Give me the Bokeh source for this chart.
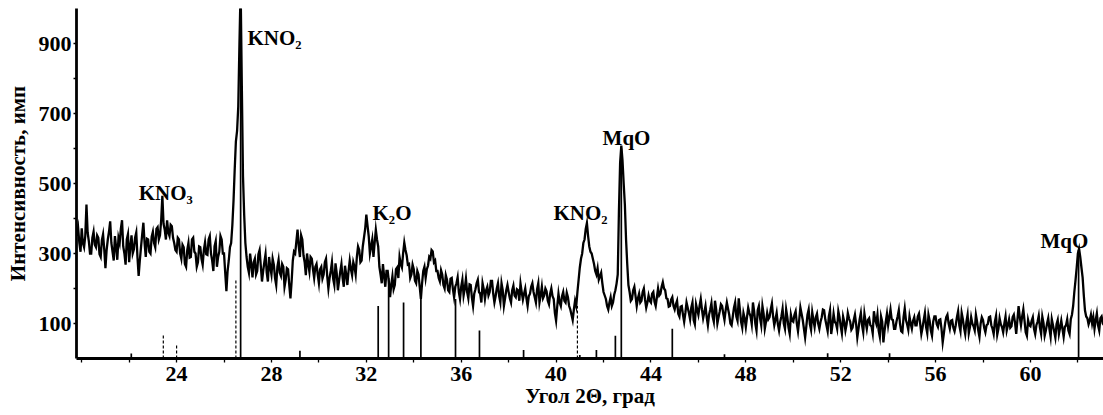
import numpy as np
from bokeh.plotting import figure
from bokeh.models import Range1d, FixedTicker
from bokeh.core.properties import value
from bokeh.embed import file_html
from bokeh.resources import INLINE

# ---- data ----
scan_start = 19.80    # first 2-theta of the scan, degrees
scan_step = 0.05      # scan step, degrees

# 19.80 ... 29.95
intensity_20s = [
    350, 372, 330, 305,
    372, 330, 318, 350, 440, 360, 335, 300, 300, 345, 362, 325, 318, 352, 345, 298, 290, 338, 355, 312,
    258, 310, 340, 362, 392, 330, 305, 280, 350, 318, 282, 345, 330, 370, 395, 320, 300, 268, 340, 355,
    275, 320, 352, 300, 312, 345, 360, 290, 236, 280, 318, 355, 388, 330, 290, 342, 340, 305, 300, 348,
    362, 330, 318, 370, 375, 340, 352, 395, 465, 385, 368, 340, 395, 360, 350, 382, 378, 345, 330, 310,
    305, 345, 340, 300, 285, 325, 318, 270, 262, 310, 330, 288, 290, 340, 345, 305, 300, 262, 275, 320,
    318, 285, 268, 310, 332, 298, 296, 340, 350, 300, 280, 250, 320, 335, 262, 290, 305, 350, 340, 300,
    300, 245, 192, 250, 280, 318, 330, 380, 450, 540, 620, 650, 720, 900, 1060, 780, 520, 410, 330, 290,
    262, 245, 300, 268, 232, 275, 285, 240, 250, 298, 310, 265, 220, 250, 275, 298, 245, 220, 290, 260,
    240, 285, 268, 230, 210, 262, 282, 245, 236, 270, 262, 205, 225, 258, 255, 210, 172, 220, 280, 305,
    300, 335, 368, 320, 290, 352, 340, 295, 275, 238, 300, 270, 248, 290, 285, 255, 230, 262, 270, 240,
]
# 30.00 ... 39.95
intensity_30s = [
    215, 255, 262, 228, 240, 275, 285, 235, 200, 230, 250, 275, 228, 210, 272, 245, 195, 222, 248, 270,
    230, 205, 265, 240, 210, 250, 280, 255, 238, 275, 262, 240, 290, 320, 310, 275, 280, 320, 345, 370,
    411, 380, 350, 300, 320, 340, 290, 330, 368, 340, 320, 262, 240, 215, 270, 235, 205, 250, 250, 220,
    175, 210, 235, 198, 210, 255, 260, 230, 290, 270, 260, 300, 331, 310, 295, 268, 270, 230, 240, 268,
    255, 222, 215, 250, 240, 205, 170, 215, 250, 262, 230, 255, 265, 290, 285, 310, 306, 275, 280, 250,
    250, 230, 220, 252, 240, 210, 200, 238, 225, 195, 190, 228, 230, 198, 175, 205, 215, 232, 190, 170,
    205, 225, 180, 200, 228, 190, 172, 212, 210, 175, 150, 185, 198, 215, 225, 190, 185, 160, 215, 198,
    170, 195, 205, 180, 190, 222, 222, 185, 160, 178, 200, 215, 178, 160, 215, 195, 150, 172, 195, 210,
    190, 172, 160, 195, 208, 180, 175, 198, 195, 165, 214, 190, 168, 185, 200, 172, 150, 178, 185, 205,
    215, 190, 175, 160, 198, 215, 160, 180, 205, 172, 180, 200, 192, 165, 155, 185, 200, 178, 170, 130,
]
# 40.00 ... 49.95
intensity_40s = [
    108, 150, 185, 160, 150, 178, 190, 165, 160, 188, 175, 150, 140, 125, 110, 140, 165, 150, 190, 225,
    260, 285, 300, 330, 340, 370, 387, 350, 320, 305, 300, 285, 270, 250, 240, 258, 225, 235, 245, 215,
    190, 180, 170, 150, 140, 160, 175, 150, 160, 182, 195, 214, 240, 423, 560, 608, 566, 500, 440, 340,
    270, 210, 190, 165, 170, 195, 205, 178, 150, 172, 185, 160, 165, 190, 200, 168, 145, 160, 180, 165,
    160, 185, 190, 162, 150, 175, 200, 180, 185, 205, 218, 200, 195, 172, 170, 148, 150, 168, 175, 150,
    140, 155, 165, 128, 120, 148, 150, 125, 105, 130, 160, 145, 130, 112, 145, 160, 110, 98, 155, 140,
    125, 150, 170, 140, 115, 132, 150, 118, 95, 125, 140, 158, 120, 105, 165, 140, 100, 118, 135, 155,
    150, 128, 110, 138, 160, 142, 125, 100, 95, 120, 145, 160, 120, 108, 172, 140, 105, 88, 130, 115,
    90, 118, 145, 130, 120, 98, 160, 135, 100, 80, 138, 150, 115, 95, 150, 128, 85, 105, 130, 112,
    118, 140, 157, 120, 95, 112, 130, 98, 80, 105, 120, 142, 100, 85, 140, 118, 88, 70, 125, 108,
]
# 50.00 ... 59.95
intensity_50s = [
    105, 125, 135, 100, 78, 110, 146, 128, 110, 85, 60, 92, 125, 140, 98, 82, 132, 110, 90, 118,
    128, 100, 85, 105, 118, 140, 138, 112, 95, 78, 120, 138, 70, 95, 128, 105, 100, 85, 135, 118,
    92, 72, 120, 105, 80, 98, 130, 115, 105, 82, 88, 110, 125, 98, 60, 85, 112, 130, 95, 75,
    128, 105, 85, 110, 115, 95, 92, 72, 135, 112, 100, 125, 80, 62, 120, 105, 46, 80, 105, 128,
    95, 118, 140, 112, 110, 85, 85, 105, 120, 138, 100, 78, 75, 118, 143, 110, 98, 82, 120, 100,
    85, 108, 118, 95, 95, 120, 128, 100, 70, 88, 110, 130, 90, 72, 125, 108, 80, 65, 105, 120,
    120, 98, 90, 110, 112, 85, 46, 72, 100, 118, 125, 100, 85, 108, 110, 88, 78, 95, 118, 135,
    95, 78, 130, 112, 88, 70, 105, 125, 72, 90, 118, 100, 92, 80, 125, 105, 80, 62, 100, 118,
    110, 88, 75, 95, 98, 118, 120, 95, 85, 70, 105, 122, 68, 85, 115, 98, 90, 75, 100, 120,
    80, 95, 112, 88, 92, 118, 125, 102, 70, 110, 150, 118, 95, 120, 140, 108, 75, 65, 110, 95,
]
# 60.00 ... 63.10
intensity_60s = [
    92, 108, 118, 85, 70, 95, 105, 122, 88, 70, 120, 102, 65, 80, 100, 115, 85, 62, 112, 95,
    78, 60, 98, 110, 70, 88, 108, 85, 62, 90, 95, 112, 80, 70, 112, 125, 150, 190, 223, 260,
    300, 314, 290, 260, 231, 180, 137, 120, 115, 98, 109, 125, 100, 118, 85, 110, 129, 95, 80, 115,
    120, 100, 95,
]

# reference (card) lines: solid ones
ref_solid_pos = [22.09, 26.70, 29.20, 32.50, 32.94, 33.57, 34.30, 35.76, 36.77,
                 38.63, 41.00, 41.70, 42.50, 42.75, 44.90, 47.10, 51.45, 54.06, 62.03]
ref_solid_int = [14, 1000, 22, 150, 230, 160, 190, 170, 80,
                 24, 10, 24, 65, 600, 85, 12, 15, 15, 310]
# reference lines drawn dashed
ref_dashed_pos = [23.44, 24.00, 26.50, 40.90]
ref_dashed_int = [70, 40, 225, 150]

# phase labels
phase_text = ["KNO\u2083", "KNO\u2082", "K\u2082O", "KNO\u2082", "MqO", "MqO"]
phase_x = [22.40, 26.99, 32.26, 39.89, 41.96, 60.42]
phase_y = [474, 917, 417, 417, 631, 337]

x_ticks = [20, 22, 24, 26, 28, 30, 32, 34, 36, 38, 40, 42, 44, 46, 48, 50,
           52, 54, 56, 58, 60, 62]
x_labeled = [24, 28, 32, 36, 40, 44, 48, 52, 56, 60]
y_ticks = [100, 200, 300, 400, 500, 600, 700, 800, 900]
y_labeled = [100, 300, 500, 700, 900]

x_title = "Угол 2Θ, град"
y_title = "Интенсивность, имп"

# ---- drawing ----
intensity = intensity_20s + intensity_30s + intensity_40s + intensity_50s + intensity_60s
two_theta = np.round(scan_start + scan_step * np.arange(len(intensity)), 2)

FONT = "Liberation Serif"

p = figure(width=1103, height=415, output_backend="svg", toolbar_location=None,
           x_range=Range1d(19.78, 63.08), y_range=Range1d(0, 1000),
           min_border_left=76, min_border_right=0, min_border_top=8,
           min_border_bottom=57)
p.outline_line_color = None
p.xgrid.visible = False
p.ygrid.visible = False
p.background_fill_color = "white"
p.border_fill_color = "white"

p.line(two_theta, intensity, line_color="black", line_width=2.3, line_join="miter")
p.segment(x0=ref_solid_pos, y0=[0] * len(ref_solid_pos), x1=ref_solid_pos,
          y1=ref_solid_int, line_color="black", line_width=1.7)
p.segment(x0=ref_dashed_pos, y0=[0] * len(ref_dashed_pos), x1=ref_dashed_pos,
          y1=ref_dashed_int, line_color="black", line_width=1.2, line_dash="3 2")

p.text(x=phase_x, y=phase_y, text=phase_text, text_font=value(FONT),
       text_font_style="bold", text_font_size="21px", text_color="black",
       text_align="left", text_baseline="alphabetic")

for ax in (p.xaxis[0], p.yaxis[0]):
    ax.axis_line_width = 2.8
    ax.axis_line_color = "black"
    ax.major_tick_line_color = "black"
    ax.major_tick_line_width = 1.3
    ax.minor_tick_line_color = None
    ax.major_label_text_font = FONT
    ax.major_label_text_font_style = "bold"
    ax.major_label_text_font_size = "22px"
    ax.major_label_text_color = "black"
    ax.axis_label_text_font = FONT
    ax.axis_label_text_font_style = "bold"
    ax.axis_label_text_font_size = "21px"
    ax.axis_label_text_color = "black"

xa = p.xaxis[0]
xa.ticker = FixedTicker(ticks=x_ticks)
xa.major_label_overrides = {t: (str(t) if t in x_labeled else "") for t in x_ticks}
xa.major_tick_out = 4
xa.major_tick_in = 0
xa.major_label_standoff = 4
xa.axis_label = x_title
xa.axis_label_standoff = 0

ya = p.yaxis[0]
ya.ticker = FixedTicker(ticks=y_ticks)
ya.major_label_overrides = {t: (str(t) if t in y_labeled else "") for t in y_ticks}
ya.major_tick_out = 3
ya.major_tick_in = 0
ya.major_label_standoff = 2
ya.axis_label = y_title
ya.axis_label_standoff = 6

open("out.html", "w").write(file_html(p, INLINE))
